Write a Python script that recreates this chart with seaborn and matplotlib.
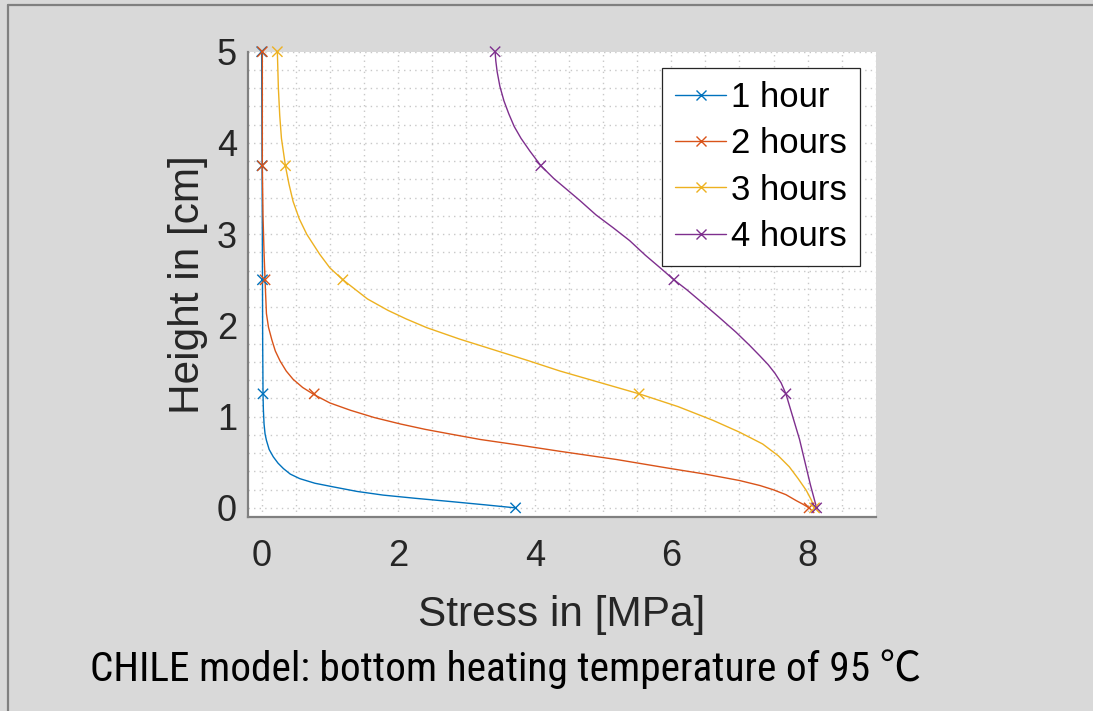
import numpy as np
import pandas as pd
import matplotlib
matplotlib.use("Agg")
import matplotlib.pyplot as plt
from matplotlib.lines import Line2D
from matplotlib import font_manager
from matplotlib.ticker import MultipleLocator
import seaborn as sns

# ---------------- data ----------------
series_names = ["1 hour", "2 hours", "3 hours", "4 hours"]
series_colors = ["#0072BD", "#D95319", "#EDB120", "#7E2F8E"]

marker_heights = [5.0, 3.75, 2.5, 1.25, 0.0]
marker_stress_1h = [0.0, 0.005, 0.012, 0.02, 3.72]
marker_stress_2h = [0.01, 0.01, 0.05, 0.77, 8.02]
marker_stress_3h = [0.23, 0.35, 1.19, 5.53, 8.10]
marker_stress_4h = [3.42, 4.09, 6.04, 7.68, 8.13]

# curve traces (stress, height), top to bottom
curve_1h_stress = [0.0, 0.005, 0.01, 0.012, 0.015, 0.018, 0.02, 0.025, 0.035, 0.05, 0.07, 0.11,
                   0.17, 0.24, 0.32, 0.42, 0.56, 0.78, 1.05, 1.40, 1.78, 2.25, 2.76, 3.25, 3.72]
curve_1h_height = [5.0, 4.0, 3.0, 2.5, 1.8, 1.5, 1.25, 1.08, 0.92, 0.81, 0.74, 0.64,
                   0.56, 0.49, 0.43, 0.37, 0.32, 0.27, 0.23, 0.18, 0.14, 0.105, 0.07, 0.035, 0.0]

curve_2h_stress = [0.01, 0.01, 0.02, 0.035, 0.05, 0.07, 0.10, 0.15, 0.20, 0.27, 0.36, 0.46, 0.60,
                   0.77, 1.00, 1.30, 1.65, 2.03, 2.40, 2.76, 3.20, 3.80, 4.37, 5.20, 6.00, 6.50,
                   7.00, 7.30, 7.49, 7.68, 7.83, 7.93, 8.02]
curve_2h_height = [5.0, 3.75, 3.2, 2.8, 2.49, 2.13, 1.98, 1.84, 1.72, 1.61, 1.50, 1.41, 1.32,
                   1.24, 1.15, 1.07, 0.99, 0.92, 0.86, 0.81, 0.75, 0.685, 0.62, 0.53, 0.43, 0.37,
                   0.30, 0.245, 0.20, 0.145, 0.08, 0.04, 0.0]

curve_3h_stress = [0.23, 0.245, 0.265, 0.29, 0.35, 0.40, 0.46, 0.55, 0.66, 0.85, 1.00, 1.19, 1.55,
                   1.85, 2.12, 2.42, 2.90, 3.39, 3.90, 4.37, 4.95, 5.53, 6.10, 6.61, 7.00, 7.34,
                   7.57, 7.73, 7.86, 7.98, 8.05, 8.10]
curve_3h_height = [5.0, 4.6, 4.3, 4.05, 3.74, 3.55, 3.36, 3.17, 3.0, 2.78, 2.63, 2.5, 2.29,
                   2.165, 2.07, 1.975, 1.85, 1.735, 1.615, 1.50, 1.375, 1.25, 1.11, 0.96, 0.83, 0.70,
                   0.57, 0.45, 0.32, 0.19, 0.09, 0.0]

curve_4h_stress = [3.42, 3.43, 3.45, 3.49, 3.55, 3.62, 3.70, 3.80, 3.93, 4.09, 4.28, 4.47, 4.66,
                   4.90, 5.15, 5.39, 5.62, 5.84, 6.04, 6.23, 6.42, 6.70, 6.95, 7.15, 7.30, 7.42,
                   7.52, 7.61, 7.68, 7.78, 7.88, 7.96, 8.04, 8.13]
curve_4h_height = [5.0, 4.9, 4.78, 4.62, 4.46, 4.32, 4.18, 4.05, 3.91, 3.75, 3.61, 3.49, 3.37,
                   3.21, 3.07, 2.93, 2.77, 2.63, 2.5, 2.39, 2.27, 2.09, 1.925, 1.78, 1.665, 1.57,
                   1.475, 1.37, 1.25, 1.0, 0.75, 0.5, 0.25, 0.0]

x_ticks = [0, 2, 4, 6, 8]
y_ticks = [0, 1, 2, 3, 4, 5]
x_label = "Stress in [MPa]"
y_label = "Height in [cm]"
caption = "CHILE model: bottom heating temperature of 95 \u2103"

# ---------------- tables ----------------
curves = [(curve_1h_stress, curve_1h_height), (curve_2h_stress, curve_2h_height),
          (curve_3h_stress, curve_3h_height), (curve_4h_stress, curve_4h_height)]
markers = [marker_stress_1h, marker_stress_2h, marker_stress_3h, marker_stress_4h]

rows = []
for name, (xs, ys) in zip(series_names, curves):
    for i, (xv, yv) in enumerate(zip(xs, ys)):
        rows.append({"series": name, "stress": xv, "height": yv, "order": i})
curve_df = pd.DataFrame(rows)

mrows = []
for name, xs in zip(series_names, markers):
    for xv, yv in zip(xs, marker_heights):
        mrows.append({"series": name, "stress": xv, "height": yv})
marker_df = pd.DataFrame(mrows)

# ---------------- fonts ----------------
sns.set_style("white")
available = {f.name for f in font_manager.fontManager.ttflist}
main_font = "Liberation Sans" if "Liberation Sans" in available else "DejaVu Sans"
narrow_font = main_font
for cand in ["Roboto Condensed", "Liberation Sans Narrow", "Open Sans Condensed"]:
    if cand in available:
        narrow_font = cand
        break
plt.rcParams["font.family"] = [main_font, "DejaVu Sans"]

# ---------------- figure ----------------
BG = "#d9d9d9"
fig = plt.figure(figsize=(10.93, 7.11), dpi=100, facecolor=BG)
ax = fig.add_axes([248 / 1093, 1 - 517 / 711, (876 - 248) / 1093, (517 - 51.7) / 711])
ax.set_facecolor("white")

palette = dict(zip(series_names, series_colors))
sns.lineplot(data=curve_df, x="stress", y="height", hue="series", units="series",
             sort=False, estimator=None, palette=palette, linewidth=1.0,
             legend=False, ax=ax, zorder=3)
sns.scatterplot(data=marker_df, x="stress", y="height", hue="series", palette=palette,
                marker="x", s=55, linewidth=1.0, legend=False, ax=ax, zorder=4,
                clip_on=False)

ax.set_xlim(-0.2, 9)
ax.set_ylim(-0.1, 5)
ax.set_xticks(x_ticks)
ax.set_yticks(y_ticks)
ax.xaxis.set_minor_locator(MultipleLocator(0.5))
ax.yaxis.set_minor_locator(MultipleLocator(0.2))

grid_kw = dict(color="#c8c8c8", linestyle=(0, (1, 3)), linewidth=1.0)
ax.grid(True, which="major", **grid_kw)
ax.grid(True, which="minor", **grid_kw)
ax.set_axisbelow(True)

for side in ["top", "right"]:
    ax.spines[side].set_visible(False)
for side in ["left", "bottom"]:
    ax.spines[side].set_color("#808080")
    ax.spines[side].set_linewidth(1.6)

ax.tick_params(which="major", direction="in", length=5, width=1.1, color="#262626",
               labelsize=26, labelcolor="#262626")
ax.tick_params(axis="x", pad=16)
ax.tick_params(axis="y", pad=8)
ax.tick_params(which="minor", length=0)

ax.set_xlabel(x_label, fontsize=30.5, color="#262626", labelpad=15)
ax.set_ylabel(y_label, fontsize=30.5, color="#262626", labelpad=6)

handles = [Line2D([], [], color=c, marker="x", markersize=7, linewidth=1.0, markeredgewidth=1.0)
           for c in series_colors]
leg = ax.legend(handles, series_names, loc="upper right",
                bbox_to_anchor=((860 - 248) / (876 - 248), (517 - 68) / (517 - 51.7)),
                borderaxespad=0, fontsize=25, frameon=True, fancybox=False,
                handlelength=1.45, handletextpad=0.15, labelspacing=0.38,
                borderpad=0.38)
leg.get_frame().set_edgecolor("#262626")
leg.get_frame().set_linewidth(0.9)
leg.get_frame().set_facecolor("white")
leg.get_frame().set_alpha(1)
for t in leg.get_texts():
    t.set_color("black")

fig.text(90 / 1093, 1 - 681 / 711, caption, fontsize=29.8, color="black",
         family=[narrow_font, "Noto Sans CJK SC", "DejaVu Sans"], va="baseline", ha="left")

# figure border (top and left)
fig.add_artist(Line2D([7.5 / 1093, 1], [1 - 4.5 / 711, 1 - 4.5 / 711], transform=fig.transFigure,
                      color="#808080", linewidth=1.6))
fig.add_artist(Line2D([7.5 / 1093, 7.5 / 1093], [0, 1 - 4.5 / 711], transform=fig.transFigure,
                      color="#808080", linewidth=1.6))

fig.savefig("out.png", dpi=100, facecolor=BG)
